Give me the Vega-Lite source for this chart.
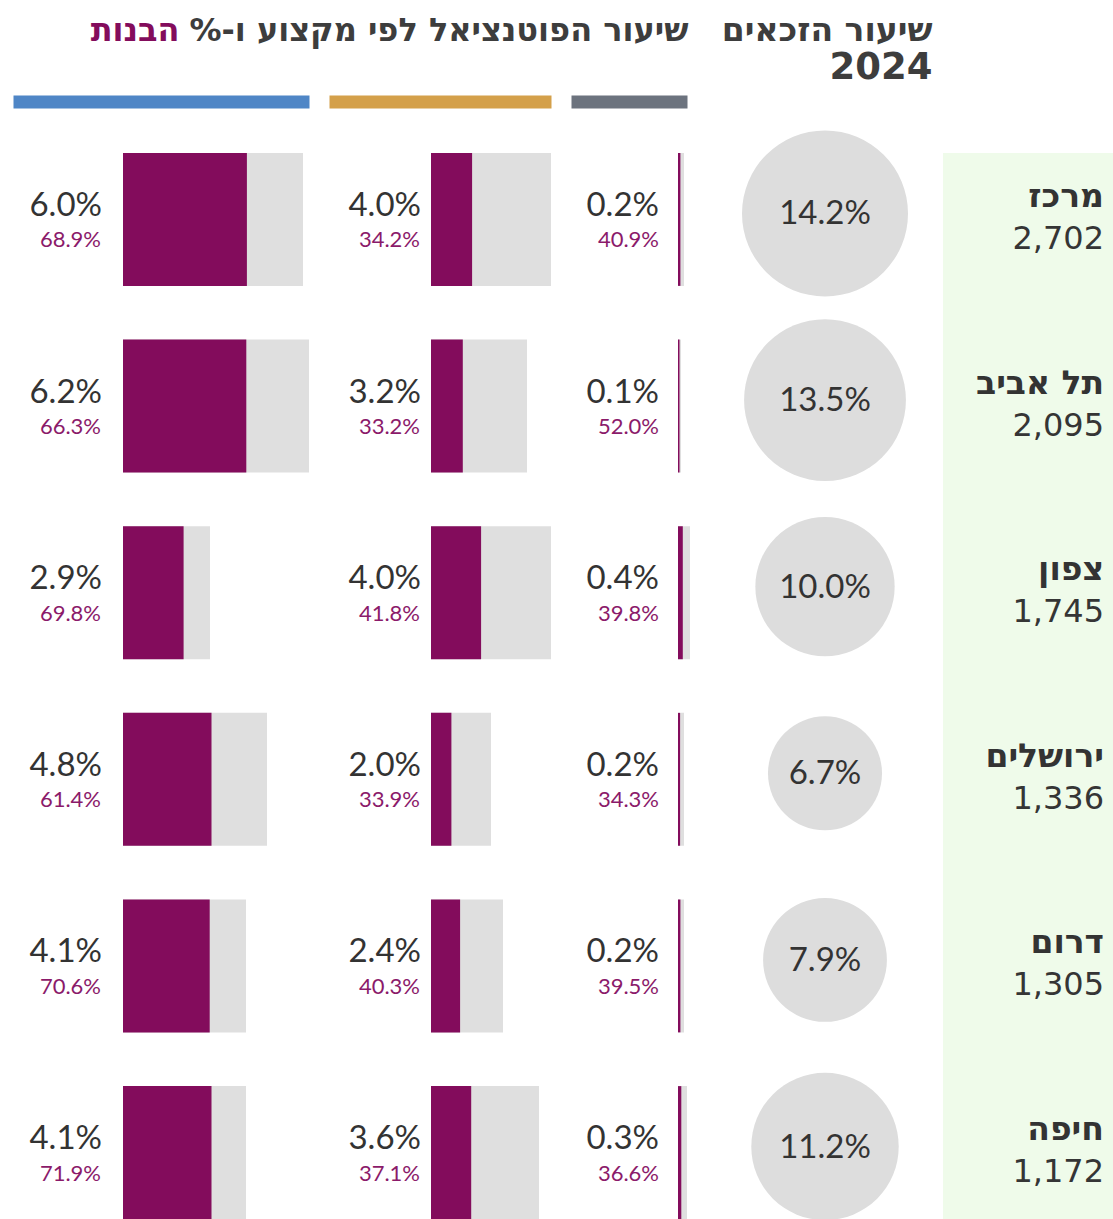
{
  "$schema": "https://vega.github.io/schema/vega-lite/v6.json",
  "background": "white",
  "padding": {"left": 13, "top": 14, "right": 0, "bottom": 0},
  "config": {"view": {"stroke": null}},
  "datasets": {
    "bars": [
      {"region": "מרכז", "cat": "c1", "total": 0.060, "share": 0.689, "girls": 0.0413},
      {"region": "תל אביב", "cat": "c1", "total": 0.062, "share": 0.663, "girls": 0.0411},
      {"region": "צפון", "cat": "c1", "total": 0.029, "share": 0.698, "girls": 0.0202},
      {"region": "ירושלים", "cat": "c1", "total": 0.048, "share": 0.614, "girls": 0.0295},
      {"region": "דרום", "cat": "c1", "total": 0.041, "share": 0.706, "girls": 0.0289},
      {"region": "חיפה", "cat": "c1", "total": 0.041, "share": 0.719, "girls": 0.0295},
      {"region": "מרכז", "cat": "c2", "total": 0.040, "share": 0.342, "girls": 0.0137},
      {"region": "תל אביב", "cat": "c2", "total": 0.032, "share": 0.332, "girls": 0.0106},
      {"region": "צפון", "cat": "c2", "total": 0.040, "share": 0.418, "girls": 0.0167},
      {"region": "ירושלים", "cat": "c2", "total": 0.020, "share": 0.339, "girls": 0.0068},
      {"region": "דרום", "cat": "c2", "total": 0.024, "share": 0.403, "girls": 0.0097},
      {"region": "חיפה", "cat": "c2", "total": 0.036, "share": 0.371, "girls": 0.0134},
      {"region": "מרכז", "cat": "c3", "total": 0.002, "share": 0.409, "girls": 0.0008},
      {"region": "תל אביב", "cat": "c3", "total": 0.001, "share": 0.520, "girls": 0.0005},
      {"region": "צפון", "cat": "c3", "total": 0.004, "share": 0.398, "girls": 0.0016},
      {"region": "ירושלים", "cat": "c3", "total": 0.002, "share": 0.343, "girls": 0.0007},
      {"region": "דרום", "cat": "c3", "total": 0.002, "share": 0.395, "girls": 0.0008},
      {"region": "חיפה", "cat": "c3", "total": 0.003, "share": 0.366, "girls": 0.0011}
    ],
    "regions": [
      {"region": "מרכז", "count": 2702, "rate": 0.142},
      {"region": "תל אביב", "count": 2095, "rate": 0.135},
      {"region": "צפון", "count": 1745, "rate": 0.100},
      {"region": "ירושלים", "count": 1336, "rate": 0.067},
      {"region": "דרום", "count": 1305, "rate": 0.079},
      {"region": "חיפה", "count": 1172, "rate": 0.112}
    ]
  },
  "spacing": 0,
  "bounds": "full",
  "hconcat": [
    {
      "spacing": 20,
      "bounds": "flush",
      "hconcat": [
        {
          "width": 296, "height": 1066,
          "data": {"name": "bars"},
          "transform": [{"filter": "datum.cat === 'c1'"}],
          "encoding": {
            "y": {"field": "region", "type": "nominal", "sort": null, "scale": {"type": "band", "paddingInner": 0.288, "paddingOuter": 0}, "axis": null}
          },
          "layer": [
            {"mark": {"type": "bar", "color": "#dfdfdf"},
             "encoding": {"x": {"field": "total", "type": "quantitative", "scale": {"domain": [-0.036667, 0.062], "nice": false, "zero": false},
               "axis": {"orient": "top", "offset": 51.5, "domain": true, "domainColor": "#4f86c6", "domainWidth": 13, "ticks": false, "labels": false, "grid": false,
                 "title": "הבנות", "titleX": 166, "titleY": -61.5, "titleAlign": "right", "titleBaseline": "alphabetic", "titleAngle": 0,
                 "titleFont": "DejaVu Sans", "titleFontSize": 32, "titleFontWeight": "bold", "titleColor": "#830c5c"}}}},
            {"mark": {"type": "bar", "color": "#830c5c"},
             "encoding": {"x": {"field": "girls", "type": "quantitative"}}},
            {"mark": {"type": "text", "align": "right", "baseline": "middle", "dx": -21, "dy": -13.5, "font": "Lato", "fontSize": 33, "color": "#333333"},
             "encoding": {"x": {"datum": 0, "type": "quantitative"}, "text": {"field": "total", "type": "quantitative", "format": ".1%"}}},
            {"mark": {"type": "text", "align": "right", "baseline": "middle", "dx": -22, "dy": 21, "font": "Lato", "fontSize": 22, "color": "#8b1a6a"},
             "encoding": {"x": {"datum": 0, "type": "quantitative"}, "text": {"field": "share", "type": "quantitative", "format": ".1%"}}}
          ]
        },
        {
          "width": 222, "height": 1066,
          "data": {"name": "bars"},
          "transform": [{"filter": "datum.cat === 'c2'"}],
          "encoding": {
            "y": {"field": "region", "type": "nominal", "sort": null, "scale": {"type": "band", "paddingInner": 0.288, "paddingOuter": 0}, "axis": null}
          },
          "layer": [
            {"mark": {"type": "bar", "color": "#dfdfdf"},
             "encoding": {"x": {"field": "total", "type": "quantitative", "scale": {"domain": [-0.034, 0.040], "nice": false, "zero": false},
               "axis": {"orient": "top", "offset": 51.5, "domain": true, "domainColor": "#d4a04a", "domainWidth": 13, "ticks": false, "labels": false, "grid": false, "title": null}}}},
            {"mark": {"type": "bar", "color": "#830c5c"},
             "encoding": {"x": {"field": "girls", "type": "quantitative"}}},
            {"mark": {"type": "text", "align": "right", "baseline": "middle", "dx": -10, "dy": -13.5, "font": "Lato", "fontSize": 33, "color": "#333333"},
             "encoding": {"x": {"datum": 0, "type": "quantitative"}, "text": {"field": "total", "type": "quantitative", "format": ".1%"}}},
            {"mark": {"type": "text", "align": "right", "baseline": "middle", "dx": -11, "dy": 21, "font": "Lato", "fontSize": 22, "color": "#8b1a6a"},
             "encoding": {"x": {"datum": 0, "type": "quantitative"}, "text": {"field": "share", "type": "quantitative", "format": ".1%"}}}
          ]
        },
        {
          "width": 116, "height": 1066,
          "data": {"name": "bars"},
          "transform": [{"filter": "datum.cat === 'c3'"}],
          "encoding": {
            "y": {"field": "region", "type": "nominal", "sort": null, "scale": {"type": "band", "paddingInner": 0.288, "paddingOuter": 0}, "axis": null}
          },
          "layer": [
            {"mark": {"type": "bar", "color": "#dfdfdf"},
             "encoding": {"x": {"field": "total", "type": "quantitative", "scale": {"domain": [-0.035667, 0.003], "nice": false, "zero": false},
               "axis": {"orient": "top", "offset": 51.5, "domain": true, "domainColor": "#6c737e", "domainWidth": 13, "ticks": false, "labels": false, "grid": false,
                 "title": "‏שיעור הפוטנציאל לפי מקצוע ו-%‏", "titleX": 117, "titleY": -61.5, "titleAlign": "right", "titleBaseline": "alphabetic", "titleAngle": 0,
                 "titleFont": "DejaVu Sans", "titleFontSize": 32, "titleFontWeight": "bold", "titleColor": "#3d3d3d"}}}},
            {"mark": {"type": "bar", "color": "#830c5c"},
             "encoding": {"x": {"field": "girls", "type": "quantitative"}}},
            {"mark": {"type": "text", "align": "right", "baseline": "middle", "dx": -19, "dy": -13.5, "font": "Lato", "fontSize": 33, "color": "#333333"},
             "encoding": {"x": {"datum": 0, "type": "quantitative"}, "text": {"field": "total", "type": "quantitative", "format": ".1%"}}},
            {"mark": {"type": "text", "align": "right", "baseline": "middle", "dx": -19, "dy": 21, "font": "Lato", "fontSize": 22, "color": "#8b1a6a"},
             "encoding": {"x": {"datum": 0, "type": "quantitative"}, "text": {"field": "share", "type": "quantitative", "format": ".1%"}}}
          ]
        },
        {
          "width": 236, "height": 1066,
          "data": {"name": "regions"},
          "encoding": {
            "y": {"field": "region", "type": "nominal", "sort": null, "scale": {"type": "band", "paddingInner": 0.288, "paddingOuter": 0},
              "axis": {"orient": "left", "domain": false, "ticks": false, "labels": false, "grid": false,
                "title": "2024", "titleX": 225, "titleY": -75, "titleAlign": "right", "titleBaseline": "alphabetic", "titleAngle": 0,
                "titleFont": "DejaVu Sans", "titleFontSize": 37, "titleFontWeight": "bold", "titleColor": "#3d3d3d"}},
            "x": {"datum": 0, "type": "quantitative", "scale": {"domain": [-1, 1], "nice": false},
              "axis": {"orient": "top", "domain": false, "ticks": false, "labels": false, "grid": false,
                "title": "שיעור הזכאים", "titleX": 225, "titleY": -113, "titleAlign": "right", "titleBaseline": "alphabetic", "titleAngle": 0,
                "titleFont": "DejaVu Sans", "titleFontSize": 33, "titleFontWeight": "bold", "titleColor": "#3d3d3d"}}
          },
          "layer": [
            {"mark": {"type": "circle", "color": "#dddddd", "opacity": 1, "yOffset": -6},
             "encoding": {
               "size": {"field": "rate", "type": "quantitative", "scale": {"domain": [0, 0.142], "range": [0, 27556]}, "legend": null}}},
            {"mark": {"type": "text", "align": "center", "baseline": "middle", "dy": -5, "font": "Lato", "fontSize": 33, "color": "#333333"},
             "encoding": {"text": {"field": "rate", "type": "quantitative", "format": ".1%"}}}
          ]
        }
      ]
    },
    {
      "width": 170, "height": 1066,
      "view": {"fill": "#effbea", "stroke": null},
      "data": {"name": "regions"},
      "encoding": {
        "y": {"field": "region", "type": "nominal", "sort": null, "scale": {"type": "band", "paddingInner": 0.288, "paddingOuter": 0}, "axis": null},
        "x": {"datum": 1, "type": "quantitative", "scale": {"domain": [0, 1], "nice": false}, "axis": null}
      },
      "layer": [
        {"mark": {"type": "text", "align": "right", "baseline": "middle", "dx": -9, "dy": -22.5, "font": "DejaVu Sans", "fontWeight": "bold", "fontSize": 33, "color": "#333333"},
         "encoding": {"text": {"field": "region", "type": "nominal"}}},
        {"mark": {"type": "text", "align": "right", "baseline": "middle", "dx": -9, "dy": 19.5, "font": "DejaVu Sans", "fontSize": 32, "color": "#353535"},
         "encoding": {"text": {"field": "count", "type": "quantitative", "format": ","}}}
      ]
    }
  ]
}
